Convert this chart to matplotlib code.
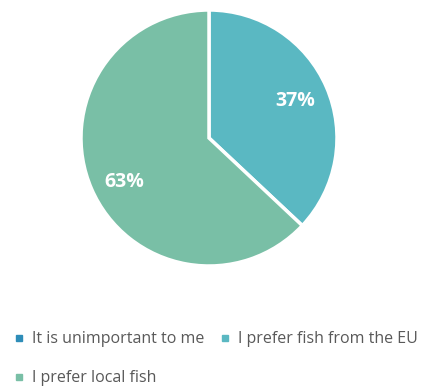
import matplotlib.pyplot as plt
from matplotlib.lines import Line2D

labels = ["It is unimportant to me", "I prefer fish from the EU", "I prefer local fish"]
values = [0, 37, 63]
colors = ["#2E8DB8", "#5AB8C2", "#79BFA6"]

plt.rcParams["font.family"] = ["Open Sans", "DejaVu Sans"]

fig = plt.figure(figsize=(4.22, 3.89), dpi=100)
cx, cy, r = 209, 138, 128
ax = fig.add_axes([(cx - r) / 422, (389 - cy - r) / 389, 2 * r / 422, 2 * r / 389])

wedges, _, autotexts = ax.pie(
    values,
    colors=colors,
    startangle=90,
    counterclock=False,
    autopct=lambda p: f"{p:.0f}%" if p > 0 else "",
    pctdistance=0.73,
    wedgeprops=dict(edgecolor="white", linewidth=2.5),
    textprops=dict(color="white", fontsize=14, fontweight="bold"),
)
# Excel puts the big slice label a little lower than the bisector
autotexts[2].set_position((-0.66, -0.34))
ax.set_xlim(-1, 1)
ax.set_ylim(-1, 1)
ax.set_aspect("equal")

handles = [Line2D([], [], marker="s", linestyle="none", markersize=5, color=c) for c in colors]
order = [0, 2, 1]
fig.legend(
    [handles[i] for i in order],
    [labels[i] for i in order],
    ncol=2,
    loc="lower left",
    bbox_to_anchor=(0.0, -0.03),
    frameon=False,
    fontsize=11.5,
    labelcolor="#595959",
    handlelength=0.6,
    handletextpad=0.5,
    columnspacing=1.0,
    labelspacing=1.45,
)

fig.savefig("out.png", dpi=100)
